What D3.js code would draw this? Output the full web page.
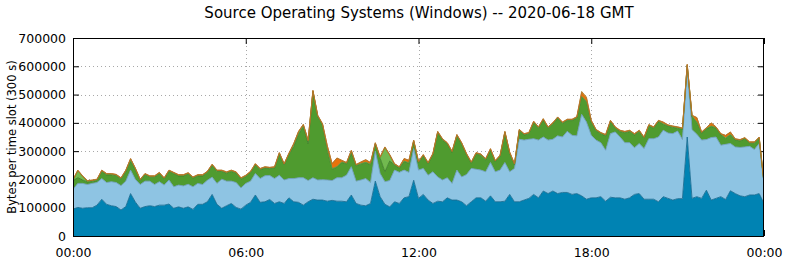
<!DOCTYPE html>
<html><head><meta charset="utf-8">
<script src="https://cdn.jsdelivr.net/npm/d3@7"></script>
<style>html,body{margin:0;padding:0;background:#fff;} svg{display:block;font-family:"DejaVu Sans",sans-serif;}</style>
</head><body>
<svg id="chart" width="786" height="261"></svg>
<script>
const title = "Source Operating Systems (Windows) -- 2020-06-18 GMT";
const yLabel = "Bytes per time slot (300 s)";
const slotMinutes = 10; // one sample every 10 minutes, 00:00 .. 24:00
const xTickLabels = ["00:00", "06:00", "12:00", "18:00", "00:00"];
const xTickMinutes = [0, 360, 720, 1080, 1440];
const yTicks = [0, 100000, 200000, 300000, 400000, 500000, 600000, 700000];
const seriesNames = ["darkBlue", "lightBlue", "green", "lightGreen", "orange", "yellow"];

// values in thousands of bytes per slot
const darkBlue = [95,101,98,100,100,109,130,112,107,104,
 92,104,150,120,98,104,107,104,109,109,
 113,98,103,98,103,94,112,112,121,147,
 112,98,107,115,101,95,109,119,145,119,
 121,129,115,121,115,135,121,119,109,121,
 130,127,127,123,126,123,123,121,145,115,
 109,107,115,194,139,112,103,121,115,135,
 139,197,133,147,127,115,123,121,135,127,
 127,121,107,121,135,135,123,142,121,121,
 123,147,121,121,127,133,147,135,159,150,
 159,150,154,154,147,150,142,130,135,135,
 139,123,137,135,135,130,135,147,150,130,
 130,130,121,139,133,127,132,132,350,133,
 139,133,162,127,133,139,129,160,150,142,
 139,145,145,150,115];
const lightBlue = [70,85,88,82,86,80,73,77,85,85,
 86,90,83,80,84,90,87,78,83,71,
 85,76,77,79,80,80,74,70,76,61,
 74,103,87,79,88,75,77,75,76,84,
 92,85,88,94,83,68,82,87,97,75,
 76,71,72,75,70,83,83,94,100,79,
 89,96,74,106,82,80,93,112,110,98,
 86,112,100,92,88,112,86,77,71,59,
 106,88,110,118,101,98,104,118,106,112,
 137,80,118,221,212,209,197,204,191,189,
 183,204,196,216,209,204,288,273,221,204,
 191,180,225,233,215,200,195,165,177,179,
 214,214,229,235,231,235,239,209,238,243,
 221,206,179,221,217,182,195,167,165,171,
 176,172,161,177,70];
const green = [30,20,12,9,7,7,25,27,24,24,
 23,34,30,35,14,22,14,26,28,21,
 30,46,32,35,36,30,26,30,27,41,
 42,27,28,34,33,31,24,30,30,31,
 27,24,37,75,53,85,113,153,180,130,
 304,224,193,103,40,37,54,40,47,54,
 56,56,63,25,54,35,69,18,15,30,
 32,25,26,44,40,60,156,141,119,109,
 121,116,70,18,54,52,42,44,35,48,
 105,65,12,30,18,19,57,42,60,42,
 54,62,48,38,52,63,62,70,45,33,
 31,51,42,13,19,35,39,45,42,36,
 45,37,54,21,24,22,10,36,14,46,
 41,24,37,39,31,36,21,30,24,23,
 28,11,22,18,2];
const lightGreen = [2,24,12,2,2,2,2,2,2,2,
 2,2,8,2,2,2,2,2,2,2,
 2,2,2,2,2,2,2,2,2,2,
 2,2,2,2,2,2,2,2,2,2,
 2,2,2,2,2,2,8,8,6,10,
 2,2,2,2,2,2,2,2,8,2,
 2,2,2,2,2,85,20,2,2,2,
 2,2,2,2,2,2,2,2,2,2,
 2,2,2,2,2,2,2,2,2,2,
 2,2,2,2,2,2,2,2,2,2,
 2,2,2,2,2,2,2,2,2,2,
 2,2,2,2,2,2,2,2,2,2,
 2,2,2,2,2,2,2,2,2,2,
 2,2,2,2,2,2,2,2,2,2,
 2,2,2,2,1];
const orange = [2,2,2,2,2,2,2,2,2,2,
 2,2,2,2,2,2,2,2,2,2,
 2,2,2,2,2,2,2,2,2,2,
 2,2,2,2,2,2,2,2,2,2,
 2,2,2,2,2,2,2,2,2,2,
 2,2,2,15,17,30,5,2,2,2,
 5,8,5,2,2,2,2,2,2,8,
 8,2,2,2,2,2,2,2,2,2,
 2,2,2,2,2,2,2,2,2,2,
 2,2,2,2,2,2,2,2,2,2,
 2,2,2,2,2,2,12,12,5,2,
 2,2,2,2,2,2,2,2,2,2,
 2,2,2,5,2,2,2,2,2,2,
 15,2,2,10,2,2,8,8,2,2,
 2,2,2,2,1];
const yellow = [1,1,1,1,1,1,1,1,1,1,
 1,1,1,1,1,1,1,1,1,1,
 1,1,1,1,1,1,1,1,1,1,
 1,1,1,1,1,1,1,1,1,1,
 1,1,1,1,1,1,1,1,1,1,
 1,1,1,1,1,1,1,1,1,1,
 1,1,1,1,1,1,1,1,1,1,
 1,1,1,1,1,1,1,1,1,1,
 1,1,1,1,1,1,1,1,1,1,
 1,1,1,1,1,1,1,1,1,1,
 1,1,1,1,1,1,5,4,1,1,
 1,1,1,1,1,1,1,1,1,1,
 1,1,1,1,1,1,1,1,1,1,
 1,1,1,1,1,1,1,1,1,1,
 1,1,1,1,1];

const fills = {darkBlue:"#0083b3", lightBlue:"#8ec4e3", green:"#4f9b2f", lightGreen:"#72b94f", orange:"#e8720c", yellow:"#f0b020"};
const edges = {darkBlue:"#1a6d93", lightBlue:"#6f9fbf", green:"#3f7f2a", lightGreen:"#5c9a3f", orange:"#c8600a", yellow:"#b07a30"};

const seriesData = {darkBlue, lightBlue, green, lightGreen, orange, yellow};
const table = darkBlue.map((_, i) => {
  const row = {t: i * slotMinutes};
  seriesNames.forEach(k => row[k] = seriesData[k][i] * 1000);
  return row;
});

const L = 73, R = 764, T = 38, B = 236;
const svg = d3.select("#chart");
const x = d3.scaleLinear().domain([0, 1440]).range([L, R]);
const y = d3.scaleLinear().domain([0, 700000]).range([B, T]);

// grid
const grid = svg.append("g").attr("stroke", "#a8a8a8").attr("stroke-width", 1).attr("stroke-dasharray", "1,3");
grid.selectAll("line.h").data(yTicks.slice(1, -1)).join("line")
  .attr("x1", L).attr("x2", R).attr("y1", d => Math.round(y(d)) + 0.5).attr("y2", d => Math.round(y(d)) + 0.5);
grid.selectAll("line.v").data(xTickMinutes.slice(1, -1)).join("line")
  .attr("y1", T).attr("y2", B).attr("x1", d => Math.round(x(d)) + 0.5).attr("x2", d => Math.round(x(d)) + 0.5);

// axes (ticks inside)
const fmt = d3.format("d");
const axL = svg.append("g").attr("transform", `translate(${L},0)`)
  .call(d3.axisLeft(y).tickValues(yTicks).tickSize(-6).tickPadding(7).tickFormat(fmt));
const axR = svg.append("g").attr("transform", `translate(${R},0)`)
  .call(d3.axisRight(y).tickValues(yTicks).tickSize(-6).tickFormat(""));
const axT = svg.append("g").attr("transform", `translate(0,${T})`)
  .call(d3.axisTop(x).tickValues(xTickMinutes).tickSize(-6).tickFormat(""));
const axB = svg.append("g").attr("transform", `translate(0,${B})`)
  .call(d3.axisBottom(x).tickValues(xTickMinutes).tickSize(-6).tickPadding(12)
    .tickFormat((d, i) => xTickLabels[i]));
[axL, axR, axT, axB].forEach(a => {
  a.select(".domain").remove();
  a.selectAll("text").attr("font-size", 12.5).attr("font-family", "DejaVu Sans").attr("fill", "#000");
  a.selectAll("line").attr("stroke", "#000");
});

// data
const stack = d3.stack().keys(seriesNames);
const layers = stack(table);
svg.append("clipPath").attr("id", "clip").append("rect").attr("x", L).attr("y", T).attr("width", R - L).attr("height", B - T);
const plot = svg.append("g").attr("clip-path", "url(#clip)");
const area = d3.area().x(d => x(d.data.t)).y0(d => y(d[0])).y1(d => y(d[1]));
const line = d3.line().x(d => x(d.data.t)).y(d => y(d[1]));
plot.selectAll("path.a").data(layers).join("path")
  .attr("d", area).attr("fill", d => fills[d.key]);
plot.selectAll("path.l").data(layers).join("path")
  .attr("d", line).attr("fill", "none").attr("stroke", d => edges[d.key]).attr("stroke-width", 0.9);

// border
svg.append("rect").attr("x", L + 0.5).attr("y", T + 0.5).attr("width", R - L - 1).attr("height", B - T)
  .attr("fill", "none").attr("stroke", "#000").attr("stroke-width", 1);

// labels
svg.append("text").attr("x", 419).attr("y", 18).attr("text-anchor", "middle")
  .attr("font-size", 15).text(title);
svg.append("text").attr("transform", `translate(16,${(T + B) / 2}) rotate(-90)`)
  .attr("text-anchor", "middle").attr("font-size", 11.5).text(yLabel);
</script>
</body></html>
